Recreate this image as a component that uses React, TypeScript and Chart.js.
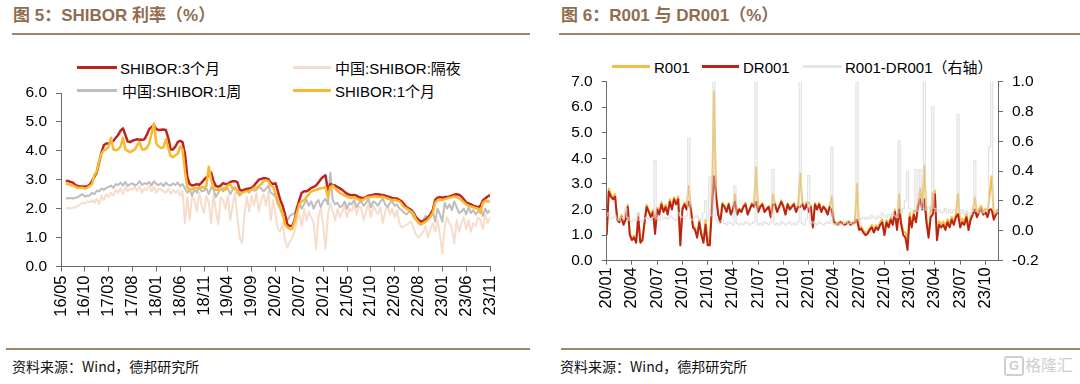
import React, { useEffect, useRef } from "react";
import { Chart, registerables } from "chart.js";

Chart.register(...registerables);

const FONT = "'Liberation Sans', Arial, 'Noto Sans CJK SC', sans-serif";
const CJK = "'Noto Sans CJK SC', 'Liberation Sans', sans-serif";

// ---------- Left chart: SHIBOR (semi-monthly points, first point = 16/06) ----------
const LEFT_TICK_LABELS = ["16/05", "16/10", "17/03", "17/08", "18/01", "18/06", "18/11", "19/04", "19/09", "20/02", "20/07", "20/12", "21/05", "21/10", "22/03", "22/08", "23/01", "23/06", "23/11"];
const LEFT_TICK_STEP = 5; // months between ticks
const LEFT_FIRST_MONTH = 1; // months after 16/05
const LEFT_POINT_STEP = 0.5; // months between points

const SHIBOR_3M = [
  2.96, 2.96, 2.92, 2.90, 2.82, 2.78, 2.77, 2.77, 2.76, 2.78, 2.82, 2.95, 3.10, 3.25, 3.60, 3.95,
  4.20, 4.25, 4.25, 4.30, 4.35, 4.45, 4.55, 4.70, 4.78, 4.55, 4.32, 4.30, 4.35, 4.38, 4.40, 4.38,
  4.38, 4.40, 4.55, 4.75, 4.82, 4.88, 4.75, 4.72, 4.73, 4.74, 4.72, 4.45, 4.05, 4.05, 4.15, 4.30,
  4.35, 4.30, 3.90, 3.10, 2.85, 2.80, 2.82, 2.85, 2.82, 2.90, 3.00, 3.08, 3.15, 3.25, 2.95, 2.78,
  2.76, 2.80, 2.88, 2.85, 2.85, 2.92, 2.95, 2.95, 2.92, 2.65, 2.62, 2.65, 2.68, 2.70, 2.72, 2.80,
  2.90, 3.00, 3.03, 3.05, 3.05, 3.02, 2.90, 2.85, 2.88, 2.60, 2.30, 2.10, 1.80, 1.45, 1.40, 1.40,
  1.60, 2.00, 2.30, 2.55, 2.60, 2.60, 2.65, 2.72, 2.75, 2.80, 2.90, 3.02, 3.10, 3.15, 2.60, 2.85,
  2.82, 2.80, 2.75, 2.70, 2.65, 2.58, 2.52, 2.48, 2.46, 2.47, 2.45, 2.40, 2.38, 2.37, 2.40, 2.45,
  2.46, 2.48, 2.50, 2.50, 2.48, 2.47, 2.45, 2.42, 2.40, 2.37, 2.35, 2.35, 2.30, 2.25, 2.15, 2.05,
  2.00, 1.95, 1.85, 1.70, 1.62, 1.55, 1.58, 1.62, 1.70, 1.80, 1.95, 2.30, 2.38, 2.40, 2.38, 2.40,
  2.40, 2.42, 2.45, 2.48, 2.50, 2.48, 2.42, 2.32, 2.22, 2.18, 2.15, 2.10, 2.08, 2.05, 2.10, 2.28,
  2.35, 2.42, 2.47,
];

const SHIBOR_ON = [
  2.00, 2.02, 2.01, 2.03, 2.05, 2.10, 2.15, 2.20, 2.18, 2.25, 2.22, 2.30, 2.20, 2.35, 2.15, 2.45,
  2.30, 2.50, 2.40, 2.55, 2.45, 2.65, 2.55, 2.70, 2.50, 2.75, 2.60, 2.70, 2.65, 2.75, 2.62, 2.78,
  2.55, 2.70, 2.65, 2.80, 2.60, 2.75, 2.55, 2.70, 2.65, 2.60, 2.55, 2.70, 2.50, 2.65, 2.55, 2.62,
  2.45, 2.60, 1.50, 2.40, 1.60, 2.45, 2.30, 1.90, 2.55, 2.10, 1.85, 2.45, 2.20, 1.50, 2.50, 1.90,
  1.45, 2.40, 2.30, 2.00, 2.45, 1.60, 2.10, 2.55, 1.70, 1.00, 0.80, 1.85, 2.40, 1.90, 2.45, 2.10,
  2.55, 1.90, 2.30, 2.50, 2.10, 2.60, 1.60, 2.30, 1.80, 1.30, 1.20, 1.50, 0.90, 0.65, 0.85, 1.00,
  1.20, 1.60, 1.80, 1.40, 2.00, 1.60, 1.90, 1.70, 1.50, 0.60, 1.70, 2.00, 1.40, 0.60, 1.80, 2.20,
  1.90, 1.60, 2.00, 1.70, 1.90, 2.10, 1.70, 2.00, 1.90, 2.15, 1.80, 2.10, 2.00, 1.60, 1.90, 2.15,
  1.70, 2.10, 1.95, 1.80, 2.05, 1.50, 1.90, 2.10, 1.80, 2.00, 1.70, 1.95, 1.50, 1.35, 1.40, 1.45,
  1.50, 1.55, 1.30, 1.10, 1.00, 1.10, 1.20, 1.40, 1.00, 1.30, 1.50, 1.20, 1.60, 1.10, 0.45, 1.40,
  1.70, 1.50, 1.30, 0.80, 1.60, 1.20, 1.50, 1.70, 1.30, 1.60, 1.20, 1.50, 1.40, 1.70, 1.60, 1.30,
  1.80, 1.50, 1.70,
];

const SHIBOR_1W = [
  2.35, 2.36, 2.37, 2.35, 2.38, 2.40, 2.45, 2.50, 2.42, 2.45, 2.45, 2.55, 2.50, 2.62, 2.60, 2.70,
  2.65, 2.72, 2.75, 2.80, 2.72, 2.85, 2.82, 2.90, 2.80, 2.92, 2.78, 2.85, 2.88, 2.80, 2.85, 2.95,
  2.82, 2.88, 2.85, 2.92, 2.80, 2.95, 2.85, 2.82, 2.88, 2.78, 2.90, 2.82, 2.80, 2.88, 2.82, 2.90,
  2.78, 2.85, 2.70, 2.55, 2.65, 2.45, 2.68, 2.55, 2.75, 2.60, 2.62, 2.70, 2.50, 2.75, 2.65, 2.40,
  2.55, 2.70, 2.60, 2.75, 2.70, 2.50, 2.65, 2.75, 2.55, 2.45, 2.60, 2.70, 2.65, 2.55, 2.70, 2.62,
  2.65, 2.75, 2.70, 2.60, 2.68, 2.80, 2.55, 2.50, 2.40, 2.15, 2.00, 1.75, 1.70, 1.60, 1.75, 1.80,
  1.85, 2.10, 2.20, 2.00, 2.15, 2.30, 2.10, 2.25, 2.00, 2.20, 2.30, 2.05, 2.25, 2.35, 2.15, 3.25,
  2.30, 2.15, 2.20, 2.05, 2.10, 2.25, 2.00, 2.20, 2.15, 2.30, 2.05, 2.20, 2.25, 2.10, 2.20, 2.35,
  2.05, 2.25, 2.20, 2.10, 2.25, 2.35, 2.15, 2.05, 2.20, 2.25, 2.10, 2.15, 2.00, 1.95, 1.85, 1.80,
  1.90, 1.85, 1.70, 1.60, 1.50, 1.45, 1.60, 1.75, 1.65, 1.80, 1.90, 1.55, 2.00, 1.80, 1.55, 2.20,
  2.00, 2.15, 1.95, 2.25, 2.05, 1.85, 1.90, 2.00, 1.80, 2.05, 1.85, 1.95, 1.80, 1.90, 2.05, 1.75,
  2.00, 1.85, 1.95,
];

const SHIBOR_1M = [
  2.85, 2.85, 2.82, 2.80, 2.76, 2.72, 2.72, 2.72, 2.70, 2.72, 2.78, 2.85, 3.15, 3.30, 3.65, 3.90,
  4.02, 4.05, 4.15, 4.45, 4.05, 4.02, 4.05, 4.15, 4.45, 4.05, 4.00, 3.95, 4.00, 4.05, 4.20, 4.30,
  4.05, 4.05, 4.10, 4.25, 4.60, 4.95, 4.25, 4.15, 4.10, 4.12, 4.40, 4.10, 3.82, 3.78, 3.85, 3.90,
  4.15, 4.05, 3.30, 2.75, 2.65, 2.68, 2.70, 2.72, 2.70, 2.75, 2.72, 2.80, 3.45, 3.00, 2.72, 2.65,
  2.65, 2.68, 2.70, 2.65, 2.80, 2.85, 2.70, 2.68, 2.65, 2.50, 2.55, 2.58, 2.60, 2.62, 2.65, 2.72,
  2.72, 2.78, 2.85, 2.95, 2.98, 2.95, 2.80, 2.75, 2.50, 2.30, 2.00, 1.85, 1.45, 1.35, 1.30, 1.30,
  1.55, 1.85, 2.15, 2.25, 2.30, 2.40, 2.50, 2.60, 2.62, 2.65, 2.68, 2.70, 2.72, 2.75, 2.40, 2.75,
  2.80, 2.70, 2.62, 2.55, 2.50, 2.45, 2.42, 2.38, 2.38, 2.40, 2.35, 2.30, 2.30, 2.32, 2.38, 2.40,
  2.40, 2.42, 2.42, 2.40, 2.40, 2.42, 2.38, 2.35, 2.32, 2.30, 2.30, 2.28, 2.25, 2.15, 2.05, 2.00,
  1.95, 1.90, 1.80, 1.62, 1.52, 1.45, 1.50, 1.55, 1.62, 1.72, 1.85, 2.20, 2.30, 2.32, 2.30, 2.33,
  2.35, 2.38, 2.40, 2.42, 2.40, 2.35, 2.30, 2.22, 2.15, 2.10, 2.08, 2.05, 2.02, 2.00, 1.85, 2.20,
  2.28, 2.25, 2.25,
];

// ---------- Right chart: R001 / DR001 (weekly points, first point = 20/01) ----------
const RIGHT_TICK_LABELS = ["20/01", "20/04", "20/07", "20/10", "21/01", "21/04", "21/07", "21/10", "22/01", "22/04", "22/07", "22/10", "23/01", "23/04", "23/07", "23/10"];
const RIGHT_TICK_STEP = 3;
const RIGHT_POINT_STEP = 0.25;
const RIGHT_X_MAX = 46.5;

const DR001 = [
  1.00, 2.70, 2.50, 2.40, 2.50, 1.60, 1.50, 1.70, 1.40, 1.60, 2.10, 1.00, 0.80, 0.90, 0.70, 1.70,
  0.70, 0.80, 1.50, 2.10, 1.90, 1.70, 1.90, 1.05, 2.00, 1.80, 2.20, 1.90, 2.10, 1.80, 2.30, 2.00,
  2.40, 2.20, 2.40, 0.60, 2.00, 2.20, 2.00, 2.30, 2.00, 1.30, 1.20, 0.90, 1.50, 1.00, 0.70, 1.40,
  0.60, 0.60, 2.00, 3.30, 2.50, 1.80, 1.50, 2.20, 2.10, 1.90, 2.20, 1.80, 2.00, 2.30, 1.80, 2.00,
  1.90, 2.10, 2.20, 1.80, 2.00, 2.20, 2.10, 2.30, 1.90, 2.10, 2.20, 1.90, 2.00, 2.10, 1.70, 2.20,
  2.20, 1.90, 2.10, 2.30, 2.10, 1.80, 2.20, 2.00, 2.10, 2.20, 1.90, 2.10, 2.10, 2.20, 2.00, 2.20,
  1.90, 2.10, 1.30, 2.20, 2.00, 2.20, 1.90, 2.10, 2.00, 1.80, 2.10, 1.95, 1.50, 1.45, 1.40, 1.50,
  1.45, 1.40, 1.45, 1.50, 1.40, 1.45, 1.50, 1.60, 1.20, 1.25, 1.10, 1.00, 1.05, 1.20, 1.30, 1.10,
  1.30, 1.20, 1.40, 1.50, 1.00, 1.50, 1.30, 1.60, 1.40, 1.90, 1.20, 2.00, 1.40, 1.00, 0.90, 0.42,
  1.70, 1.30, 1.80, 1.50, 2.10, 2.40, 2.00, 2.40, 1.50, 0.90, 1.70, 1.80, 2.60, 0.80, 1.40, 1.30,
  1.40, 1.20, 1.50, 1.30, 1.60, 1.40, 1.70, 1.82, 1.30, 1.50, 1.40, 1.70, 1.20, 1.60, 1.80, 2.00,
  1.70, 1.90, 2.00, 1.80, 1.90, 1.70, 2.00, 2.00, 1.60, 1.80, 1.90,
];

const R001 = [
  1.10, 2.82, 2.58, 2.49, 2.60, 1.68, 1.57, 1.79, 1.48, 1.75, 2.19, 1.07, 0.86, 0.98, 0.77, 1.82,
  0.77, 0.86, 1.58, 2.19, 1.98, 1.77, 1.99, 1.52, 2.08, 1.87, 2.30, 1.98, 2.19, 1.88, 2.40, 2.09,
  2.48, 2.27, 2.52, 0.70, 2.09, 2.28, 2.10, 2.92, 2.08, 1.37, 1.29, 1.00, 1.58, 1.07, 0.82, 1.60,
  0.67, 0.96, 2.10, 6.60, 2.58, 1.86, 1.55, 2.27, 2.15, 1.94, 2.26, 1.85, 2.04, 2.60, 1.85, 2.04,
  1.95, 2.14, 2.26, 1.85, 2.04, 2.25, 2.16, 3.65, 1.94, 2.15, 2.24, 1.96, 2.05, 2.14, 1.76, 2.61,
  2.24, 1.95, 2.14, 2.36, 2.15, 1.84, 2.25, 2.06, 2.14, 2.25, 1.94, 2.16, 3.40, 2.25, 2.04, 2.28,
  2.27, 2.15, 1.36, 2.25, 2.04, 2.26, 1.95, 2.14, 2.05, 1.86, 2.15, 2.51, 1.54, 1.50, 1.44, 1.55,
  1.49, 1.45, 1.51, 1.55, 1.45, 1.49, 1.56, 3.00, 1.27, 1.33, 1.19, 1.08, 1.14, 1.28, 1.40, 1.19,
  1.38, 1.30, 1.49, 1.62, 1.10, 1.59, 1.41, 1.70, 1.52, 2.00, 1.29, 2.60, 1.52, 1.15, 1.10, 0.82,
  1.85, 1.42, 1.94, 1.91, 2.23, 2.81, 2.15, 3.70, 1.64, 1.06, 1.82, 2.63, 2.75, 0.93, 1.54, 1.42,
  1.53, 1.35, 1.62, 1.44, 1.72, 1.54, 1.83, 2.60, 1.42, 1.64, 1.51, 1.83, 1.32, 1.71, 1.93, 2.47,
  1.83, 2.02, 2.14, 1.92, 2.03, 1.85, 2.56, 3.30, 1.74, 1.92, 2.03,
];

const SPREAD = [
  0.10, 0.12, 0.08, 0.09, 0.10, 0.08, 0.07, 0.09, 0.08, 0.15, 0.09, 0.07, 0.06, 0.08, 0.07, 0.12,
  0.07, 0.06, 0.08, 0.09, 0.08, 0.07, 0.09, 0.47, 0.08, 0.07, 0.10, 0.08, 0.09, 0.08, 0.10, 0.09,
  0.08, 0.07, 0.12, 0.10, 0.09, 0.08, 0.10, 0.62, 0.08, 0.07, 0.09, 0.10, 0.08, 0.07, 0.12, 0.20,
  0.07, 0.36, 0.10, 3.30, 0.08, 0.06, 0.05, 0.07, 0.05, 0.04, 0.06, 0.05, 0.04, 0.30, 0.05, 0.04,
  0.05, 0.04, 0.06, 0.05, 0.04, 0.05, 0.06, 1.35, 0.04, 0.05, 0.04, 0.06, 0.05, 0.04, 0.06, 0.41,
  0.04, 0.05, 0.04, 0.06, 0.05, 0.04, 0.05, 0.06, 0.04, 0.05, 0.04, 0.06, 1.30, 0.05, 0.04, 0.08,
  0.37, 0.05, 0.06, 0.05, 0.04, 0.06, 0.05, 0.04, 0.05, 0.06, 0.05, 0.56, 0.04, 0.05, 0.04, 0.05,
  0.04, 0.05, 0.06, 0.05, 0.05, 0.04, 0.06, 1.40, 0.07, 0.08, 0.09, 0.08, 0.09, 0.08, 0.10, 0.09,
  0.08, 0.10, 0.09, 0.12, 0.10, 0.09, 0.11, 0.10, 0.12, 0.10, 0.09, 0.60, 0.12, 0.15, 0.20, 0.40,
  0.15, 0.12, 0.14, 0.41, 0.13, 0.41, 0.15, 1.30, 0.14, 0.16, 0.12, 0.83, 0.15, 0.13, 0.14, 0.12,
  0.13, 0.15, 0.12, 0.14, 0.12, 0.14, 0.13, 0.78, 0.12, 0.14, 0.11, 0.13, 0.12, 0.11, 0.13, 0.47,
  0.13, 0.12, 0.14, 0.12, 0.13, 0.15, 0.56, 1.30, 0.14, 0.12, 0.13,
];

// ---------- styles ----------
const AXIS = "#6a6a6a";
const BROWN_TEXT = "#8f6d4f";
const BROWN_LINE = "#a58465";
const C_3M = "#C0231E";
const C_ON = "#F6DDCB";
const C_1W = "#BDBDBD";
const C_1M = "#F6B930";
const C_R001 = "#F3BE42";
const C_DR001 = "#BD2216";
const C_SPREAD = "rgba(218,218,218,0.75)";

const yTickFont = { family: FONT, size: 15.5 };
const xTickFont = { family: FONT, size: 16.5 };

function pts(arr: number[], start: number, step: number) {
  return arr.map((v, i) => ({ x: start + i * step, y: v }));
}

function xScale(labels: string[], step: number, max: number, height: number, tickLen: number, pad: number) {
  return {
    type: "linear",
    min: 0,
    max,
    afterBuildTicks: (s: any) => {
      s.ticks = labels.map((_, i) => ({ value: i * step }));
    },
    afterFit: (s: any) => {
      s.height = height;
    },
    ticks: {
      autoSkip: false,
      maxRotation: 90,
      minRotation: 90,
      padding: pad,
      color: "#000",
      font: xTickFont,
      callback: (_v: any, i: number) => labels[i],
    },
    grid: { drawOnChartArea: false, drawTicks: true, tickLength: tickLen, color: AXIS, lineWidth: 1 },
    border: { display: true, color: AXIS, width: 1 },
  };
}

function yScale(position: string, min: number, max: number, step: number, width: number, pad: number, tickLen: number) {
  return {
    type: "linear",
    position,
    min,
    max,
    afterBuildTicks: (s: any) => {
      const t: any[] = [];
      const n = Math.round((max - min) / step);
      for (let k = 0; k <= n; k++) t.push({ value: Math.round((min + k * step) * 10) / 10 });
      s.ticks = t;
    },
    afterFit: (s: any) => {
      s.width = width;
    },
    ticks: {
      padding: pad,
      color: "#000",
      font: yTickFont,
      callback: (v: any) => {
        const n = Number(v);
        return (Math.abs(n) < 1e-9 ? 0 : n).toFixed(1);
      },
    },
    grid: { drawOnChartArea: false, drawTicks: true, tickLength: tickLen, color: AXIS, lineWidth: 1 },
    border: { display: true, color: AXIS, width: 1 },
  };
}

function lineDs(label: string, data: any[], color: string, width: number, extra: any = {}) {
  return {
    label,
    data,
    borderColor: color,
    backgroundColor: color,
    borderWidth: width,
    pointRadius: 0,
    pointHoverRadius: 0,
    tension: 0,
    borderJoinStyle: "round",
    fill: false,
    ...extra,
  };
}

function leftConfig(): any {
  return {
    type: "line",
    data: {
      datasets: [
        lineDs("SHIBOR:1个月", pts(SHIBOR_1M, LEFT_FIRST_MONTH, LEFT_POINT_STEP), C_1M, 2.5),
        lineDs("SHIBOR:3个月", pts(SHIBOR_3M, LEFT_FIRST_MONTH, LEFT_POINT_STEP), C_3M, 2.5),
        lineDs("中国:SHIBOR:1周", pts(SHIBOR_1W, LEFT_FIRST_MONTH, LEFT_POINT_STEP), C_1W, 2),
        lineDs("中国:SHIBOR:隔夜", pts(SHIBOR_ON, LEFT_FIRST_MONTH, LEFT_POINT_STEP), C_ON, 2),
      ],
    },
    options: {
      responsive: false,
      animation: false,
      devicePixelRatio: 1,
      layout: { padding: { left: 0, right: 50, top: 53, bottom: 0 } },
      plugins: { legend: { display: false }, tooltip: { enabled: false }, title: { display: false } },
      scales: {
        x: xScale(LEFT_TICK_LABELS, LEFT_TICK_STEP, (LEFT_TICK_LABELS.length - 1) * LEFT_TICK_STEP, 63.5, 5, 4),
        y: yScale("left", 0, 6, 1, 61, 9, 5),
      },
    },
  };
}

function rightConfig(): any {
  return {
    type: "line",
    data: {
      datasets: [
        lineDs("R001-DR001（右轴）", pts(SPREAD, 0, RIGHT_POINT_STEP), C_SPREAD, 1.3, { yAxisID: "y1", stepped: "middle", borderJoinStyle: "miter" }),
        lineDs("DR001", pts(DR001, 0, RIGHT_POINT_STEP), C_DR001, 2, { yAxisID: "y" }),
        lineDs("R001", pts(R001, 0, RIGHT_POINT_STEP), C_R001, 2, { yAxisID: "y" }),
      ],
    },
    options: {
      responsive: false,
      animation: false,
      devicePixelRatio: 1,
      layout: { padding: { left: 0, right: 42, top: 41.5, bottom: 0 } },
      plugins: { legend: { display: false }, tooltip: { enabled: false }, title: { display: false } },
      scales: {
        x: xScale(RIGHT_TICK_LABELS, RIGHT_TICK_STEP, RIGHT_X_MAX, 69.3, 4, 2.5),
        y: yScale("left", 0, 7, 1, 66.7, 9, 5),
        y1: yScale("right", -0.2, 1.0, 0.2, 40, 9, 5),
      },
    },
  };
}

function ChartCanvas({ left, top, width, height, make }: { left: number; top: number; width: number; height: number; make: () => any }) {
  const ref = useRef<HTMLCanvasElement | null>(null);
  useEffect(() => {
    if (!ref.current) return;
    const chart = new Chart(ref.current, make());
    return () => chart.destroy();
  }, []);
  return (
    <canvas
      ref={ref}
      width={width}
      height={height}
      style={{ position: "absolute", left, top, width, height }}
    />
  );
}

function LegendItem({ lineX, lineW, y, color, textX, textTop, text }: { lineX: number; lineW: number; y: number; color: string; textX: number; textTop: number; text: string }) {
  return (
    <>
      <div style={{ position: "absolute", left: lineX, top: y - 1.25, width: lineW, height: 2.5, background: color }} />
      <div
        style={{
          position: "absolute",
          left: textX,
          top: textTop,
          fontFamily: FONT,
          fontSize: 15,
          lineHeight: "18px",
          color: "#000",
          whiteSpace: "nowrap",
        }}
      >
        {text}
      </div>
    </>
  );
}

function Title({ left, text }: { left: number; text: string }) {
  return (
    <div
      style={{
        position: "absolute",
        left,
        top: 6,
        fontFamily: FONT,
        fontWeight: "bold",
        fontSize: 17,
        lineHeight: "20px",
        color: BROWN_TEXT,
        whiteSpace: "nowrap",
      }}
    >
      {text}
    </div>
  );
}

function Rule({ left, top, width }: { left: number; top: number; width: number }) {
  return <div style={{ position: "absolute", left, top, width, height: 2, background: BROWN_LINE }} />;
}

function Footer({ left }: { left: number }) {
  return (
    <div
      style={{
        position: "absolute",
        left,
        top: 356,
        fontFamily: CJK,
        fontSize: 14,
        lineHeight: "20px",
        color: "#111",
        whiteSpace: "nowrap",
      }}
    >
      资料来源：Wind，德邦研究所
    </div>
  );
}

export default function App() {
  return (
    <div
      style={{
        position: "absolute",
        left: 0,
        top: 0,
        width: 1080,
        height: 384,
        background: "#fff",
        overflow: "hidden",
      }}
    >
      {/* Left panel */}
      <Title left={13} text="图 5：SHIBOR 利率（%）" />
      <Rule left={12} top={33} width={518} />
      <LegendItem lineX={77} lineW={40} y={67.5} color={C_3M} textX={120} textTop={59.5} text="SHIBOR:3个月" />
      <LegendItem lineX={293} lineW={38} y={67.5} color={C_ON} textX={335} textTop={59.5} text="中国:SHIBOR:隔夜" />
      <LegendItem lineX={77} lineW={40} y={90.7} color={C_1W} textX={122} textTop={82.5} text="中国:SHIBOR:1周" />
      <LegendItem lineX={293} lineW={38} y={90.7} color={C_1M} textX={335} textTop={82.5} text="SHIBOR:1个月" />
      <ChartCanvas left={0} top={40} width={540} height={290} make={leftConfig} />
      <Rule left={6} top={348} width={524} />
      <Footer left={12} />

      {/* Right panel */}
      <Title left={561} text="图 6：R001 与 DR001（%）" />
      <Rule left={559} top={33} width={521} />
      <LegendItem lineX={612} lineW={38} y={66.7} color={C_R001} textX={654} textTop={58.5} text="R001" />
      <LegendItem lineX={702} lineW={37} y={66.7} color={C_DR001} textX={743} textTop={58.5} text="DR001" />
      <LegendItem lineX={803} lineW={39} y={66.7} color="#e6e6e6" textX={845} textTop={58.5} text="R001-DR001（右轴）" />
      <ChartCanvas left={540} top={40} width={540} height={290} make={rightConfig} />
      <Rule left={561} top={348} width={519} />
      <Footer left={560} />

      {/* watermark */}
      <div
        style={{
          position: "absolute",
          left: 1004,
          top: 356,
          width: 16,
          height: 16,
          border: "2px solid #cfcfcf",
          borderRadius: 3,
          color: "#cfcfcf",
          fontFamily: FONT,
          fontWeight: "bold",
          fontSize: 13,
          lineHeight: "16px",
          textAlign: "center",
        }}
      >
        G
      </div>
      <div
        style={{
          position: "absolute",
          left: 1025,
          top: 353,
          fontFamily: CJK,
          fontSize: 16,
          lineHeight: "22px",
          color: "#cfcfcf",
          whiteSpace: "nowrap",
        }}
      >
        格隆汇
      </div>
    </div>
  );
}
